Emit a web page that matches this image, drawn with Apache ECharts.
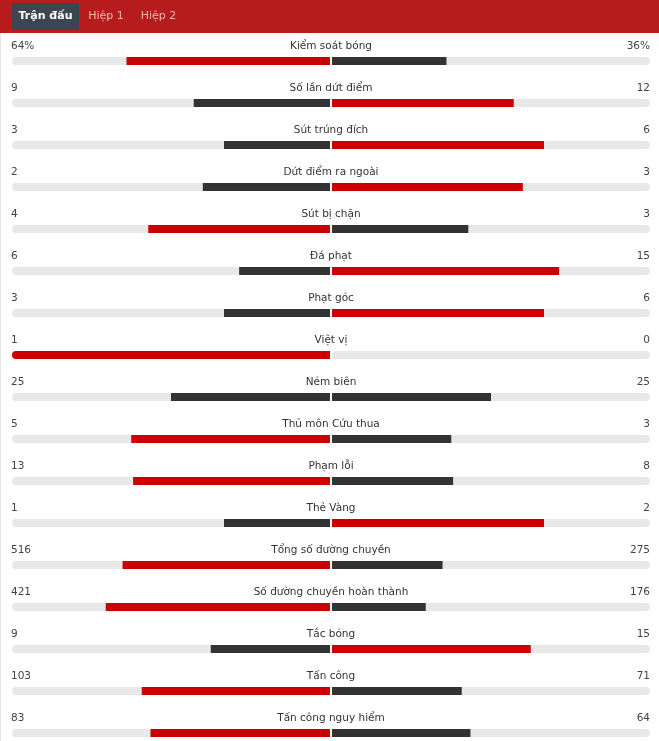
<!DOCTYPE html>
<html>
<head>
<meta charset="utf-8">
<script src="https://cdn.jsdelivr.net/npm/echarts@6/dist/echarts.min.js"></script>
<style>
html,body{margin:0;padding:0;background:#fff;overflow:hidden;}
#chart{width:659px;height:770px;}
</style>
</head>
<body>
<div id="chart"></div>
<script>
var statNames = ['Kiểm soát bóng','Số lần dứt điểm','Sút trúng đích','Dứt điểm ra ngoài','Sút bị chặn','Đá phạt','Phạt góc','Việt vị','Ném biên','Thủ môn Cứu thua','Phạm lỗi','Thẻ Vàng','Tổng số đường chuyền','Số đường chuyền hoàn thành','Tắc bóng','Tấn công','Tấn công nguy hiểm'];
var homeValues = [64,9,3,2,4,6,3,1,25,5,13,1,516,421,9,103,83];
var awayValues = [36,12,6,3,3,15,6,0,25,3,8,2,275,176,15,71,64];
var homeLabels = ['64%','9','3','2','4','6','3','1','25','5','13','1','516','421','9','103','83'];
var awayLabels = ['36%','12','6','3','3','15','6','0','25','3','8','2','275','176','15','71','64'];
var tabs = ['Trận đấu','Hiệp 1','Hiệp 2'];

var RED = '#cc0000', DARK = '#333333', TRACK = '#e8e8e8';
var FONT = '"DejaVu Sans", sans-serif';

function share(a, b) { return (a + b) === 0 ? 0 : a / (a + b); }
function colorFor(a, b) { return a > b ? RED : DARK; }

var homeData = homeValues.map(function (v, i) {
  var s = share(v, awayValues[i]);
  return { value: s, itemStyle: { color: colorFor(v, awayValues[i]), borderRadius: s >= 1 ? [4, 0, 0, 4] : 0 } };
});
var awayData = awayValues.map(function (v, i) {
  var s = share(v, homeValues[i]);
  return { value: s, itemStyle: { color: colorFor(v, homeValues[i]), borderRadius: s >= 1 ? [0, 4, 4, 0] : 0 } };
});
var idx = statNames.map(function (_, i) { return [1, i]; });

var chart = echarts.init(document.getElementById('chart'), null, { renderer: 'canvas' });
chart.setOption({
  animation: false,
  backgroundColor: '#fff',
  grid: [
    { left: 12, width: 318, top: 40, height: 714 },
    { left: 332, width: 318, top: 40, height: 714 }
  ],
  xAxis: [
    { gridIndex: 0, type: 'value', min: 0, max: 1, inverse: true, show: false },
    { gridIndex: 1, type: 'value', min: 0, max: 1, show: false }
  ],
  yAxis: [
    { gridIndex: 0, type: 'category', data: statNames, inverse: true, show: false },
    { gridIndex: 1, type: 'category', data: statNames, inverse: true, show: false }
  ],
  graphic: [
    { type: 'line', shape: { x1: 0.5, y1: 33, x2: 0.5, y2: 770 }, style: { stroke: '#e6e6e6', lineWidth: 1 } },
    { type: 'rect', left: 0, top: 0, shape: { width: 659, height: 33 }, style: { fill: '#b71c1c' } },
    { type: 'rect', left: 12, top: 3, shape: { width: 67, height: 27 }, style: { fill: '#3c4550' } },
    { type: 'text', x: 45.5, y: 16.5, style: { text: tabs[0], fill: '#ffffff', font: 'bold 11px ' + FONT, textAlign: 'center', textVerticalAlign: 'middle' } },
    { type: 'text', x: 106, y: 16.5, style: { text: tabs[1], fill: '#f6b3b3', font: '11px ' + FONT, textAlign: 'center', textVerticalAlign: 'middle' } },
    { type: 'text', x: 158.5, y: 16.5, style: { text: tabs[2], fill: '#f6b3b3', font: '11px ' + FONT, textAlign: 'center', textVerticalAlign: 'middle' } }
  ],
  series: [
    {
      type: 'bar', xAxisIndex: 0, yAxisIndex: 0, data: homeData, barWidth: 8,
      showBackground: true, backgroundStyle: { color: TRACK, borderRadius: 4 }
    },
    {
      type: 'bar', xAxisIndex: 1, yAxisIndex: 1, data: awayData, barWidth: 8,
      showBackground: true, backgroundStyle: { color: TRACK, borderRadius: 4 }
    },
    {
      type: 'custom', xAxisIndex: 0, yAxisIndex: 0, data: idx, clip: false, silent: true,
      renderItem: function (params, api) {
        var i = params.dataIndex;
        var pl = api.coord([1, i]);
        var pc = api.coord([0, i]);
        return { type: 'group', children: [
          { type: 'text', x: pl[0] - 1, y: pl[1] - 15, style: { text: homeLabels[i], fill: '#444', font: '10.5px ' + FONT, textAlign: 'left', textVerticalAlign: 'middle' } },
          { type: 'text', x: pc[0] + 1, y: pc[1] - 15, style: { text: statNames[i], fill: '#333', font: '10.5px ' + FONT, textAlign: 'center', textVerticalAlign: 'middle' } }
        ] };
      }
    },
    {
      type: 'custom', xAxisIndex: 1, yAxisIndex: 1, data: idx, clip: false, silent: true,
      renderItem: function (params, api) {
        var i = params.dataIndex;
        var pr = api.coord([1, i]);
        return { type: 'text', x: pr[0], y: pr[1] - 15, style: { text: awayLabels[i], fill: '#444', font: '10.5px ' + FONT, textAlign: 'right', textVerticalAlign: 'middle' } };
      }
    }
  ]
});
</script>
</body>
</html>
